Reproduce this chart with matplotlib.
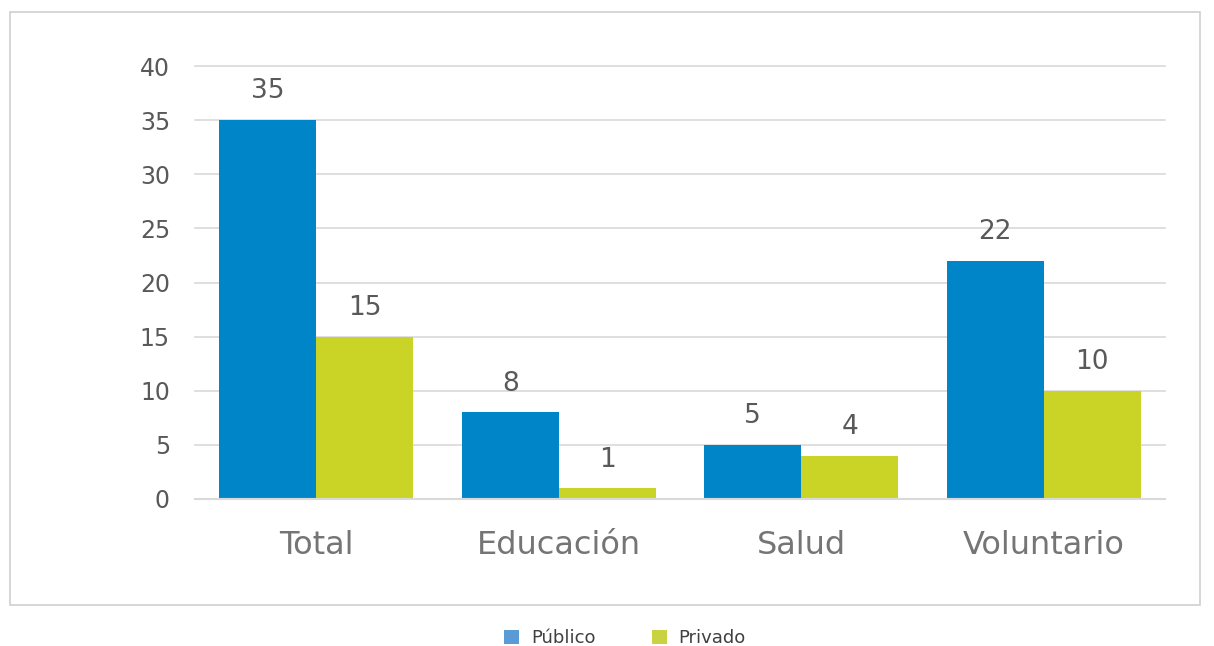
import matplotlib
matplotlib.use("Agg")
import matplotlib.pyplot as plt
from matplotlib.patches import Rectangle, Patch
import numpy as np

categories = ["Total", "Educación", "Salud", "Voluntario"]
publico = [35, 8, 5, 22]
privado = [15, 1, 4, 10]
yticks = [0, 5, 10, 15, 20, 25, 30, 35, 40]

plt.rcParams['font.family'] = ['DejaVu Sans']

fig = plt.figure(figsize=(12.14, 6.46), dpi=100)
ax = fig.add_axes([195/1214, 1-499/646, (1165-195)/1214, (499-66)/646])

x = np.arange(len(categories))
w = 0.4
c_pub = "#0086C8"
c_pri = "#C9D426"
b1 = ax.bar(x - w/2, publico, w, color=c_pub, zorder=3)
b2 = ax.bar(x + w/2, privado, w, color=c_pri, zorder=3)

for rects, vals in ((b1, publico), (b2, privado)):
    for r, v in zip(rects, vals):
        ax.text(r.get_x() + r.get_width()/2, v + 2.0, str(v), ha='center', va='baseline',
                fontsize=19, color="#595959")

ax.set_xlim(-0.5, len(categories) - 0.5)
ax.set_ylim(0, 40)
ax.set_yticks(yticks)
ax.set_yticklabels([str(t) for t in yticks], fontsize=17, color="#595959")
ax.set_xticks(x)
ax.set_xticklabels(categories, fontsize=23, color="#757575")
ax.tick_params(axis='both', length=0)
ax.tick_params(axis='y', pad=18)
ax.tick_params(axis='x', pad=22)
ax.grid(axis='y', color="#D9D9D9", linewidth=1.2, zorder=0)
for gl in ax.get_ygridlines():
    gl.set_clip_on(False)
for s in ax.spines.values():
    s.set_visible(False)
ax.axhline(0, color="#D9D9D9", linewidth=1.5, zorder=4, clip_on=False)

fig.patches.append(Rectangle((10/1214, 1-605/646), 1190/1214, 593/646, transform=fig.transFigure,
                             fill=False, edgecolor="#D0D0D0", linewidth=1.2))

handles = [Patch(facecolor="#5B9BD5"), Patch(facecolor="#C9D241")]
fig.legend(handles, ["Público", "Privado"], loc='center', bbox_to_anchor=(625/1214, 1-638/646),
           ncol=2, frameon=False, fontsize=13, handlelength=0.85, handleheight=0.85,
           columnspacing=3.1, handletextpad=0.65, labelcolor="#404040")

fig.savefig("out.png", dpi=100)
